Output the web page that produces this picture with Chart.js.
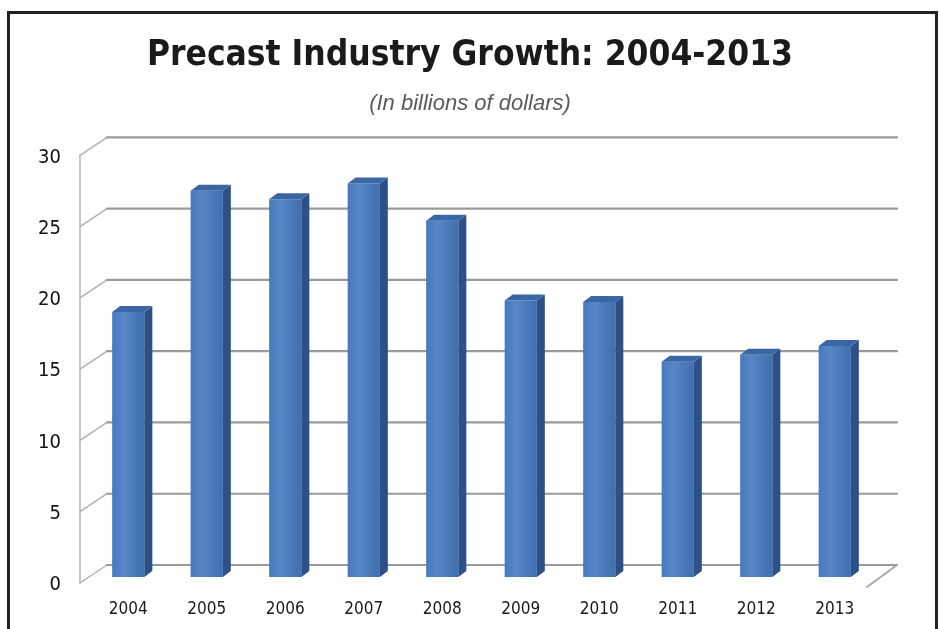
<!DOCTYPE html>
<html>
<head>
<meta charset="utf-8">
<script src="https://cdn.jsdelivr.net/npm/chart.js@4.4.1/dist/chart.umd.min.js"></script>
<style>
  body { margin: 0; background: #fff; }
  #wrap { position: relative; width: 940px; height: 629px; }
  #frame {
    position: absolute; left: 7px; top: 11px; width: 925px; height: 630px;
    border: 3px solid #222; border-bottom: none; pointer-events: none;
  }
</style>
</head>
<body>
<div id="wrap">
  <canvas id="myChart" width="940" height="629"></canvas>
  <div id="frame"></div>
</div>
<script>
// data
const years = ['2004', '2005', '2006', '2007', '2008', '2009', '2010', '2011', '2012', '2013'];
const sales = [18.6, 27.1, 26.5, 27.6, 25.0, 19.4, 19.3, 15.1, 15.6, 16.2];
const yTicks = [0, 5, 10, 15, 20, 25, 30];

const narrow = '"Liberation Sans Narrow", "DejaVu Sans Condensed", "Arial Narrow", sans-serif';

// fake 3d: back wall grid + bar side/top faces
const depth = { dx: 27, dy: 18, frontDx: -9, frontDy: 6 };

const wallPlugin = {
  id: 'wall',
  beforeDatasetsDraw(chart) {
    const { ctx, chartArea, scales } = chart;
    const ys = scales.y;
    const left = chartArea.left + depth.frontDx;
    const backLeft = left + depth.dx;
    const backRight = chartArea.right + 23;
    ctx.save();
    ctx.lineCap = 'round';
    // front vertical axis
    ctx.strokeStyle = '#b4b4b4';
    ctx.lineWidth = 1.5;
    ctx.beginPath();
    ctx.moveTo(left, ys.getPixelForValue(30) + depth.frontDy);
    ctx.lineTo(left, ys.getPixelForValue(0) + depth.frontDy);
    ctx.stroke();
    yTicks.forEach((v) => {
      const yf = ys.getPixelForValue(v) + depth.frontDy;
      const yb = yf - depth.dy;
      ctx.strokeStyle = '#b0b0b0';
      ctx.lineWidth = 1.5;
      ctx.beginPath();
      ctx.moveTo(left, yf);
      ctx.lineTo(backLeft, yb);
      ctx.stroke();
      ctx.strokeStyle = '#9a9a9a';
      ctx.lineWidth = 2.2;
      ctx.beginPath();
      ctx.moveTo(backLeft, yb);
      ctx.lineTo(backRight, yb);
      ctx.stroke();
    });
    // floor corner on the right
    const y0 = ys.getPixelForValue(0) + depth.frontDy;
    ctx.strokeStyle = '#a8a8a8';
    ctx.lineWidth = 2;
    ctx.beginPath();
    ctx.moveTo(backRight - depth.dx - 3, y0 + 4);
    ctx.lineTo(backRight, y0 - depth.dy);
    ctx.stroke();
    ctx.restore();
  },
  afterDatasetsDraw(chart) {
    const { ctx } = chart;
    const meta = chart.getDatasetMeta(0);
    const dx = 8, dy = 6;
    ctx.save();
    meta.data.forEach((bar) => {
      const l = bar.x - bar.width / 2;
      const r = bar.x + bar.width / 2;
      const top = bar.y;
      const base = bar.base;
      // side face
      ctx.fillStyle = '#2d5187';
      ctx.beginPath();
      ctx.moveTo(r, top);
      ctx.lineTo(r + dx, top - dy);
      ctx.lineTo(r + dx, base - dy);
      ctx.lineTo(r, base);
      ctx.closePath();
      ctx.fill();
      // top cap
      ctx.fillStyle = '#3a66a6';
      ctx.beginPath();
      ctx.moveTo(l, top);
      ctx.lineTo(l + dx, top - dy);
      ctx.lineTo(r + dx, top - dy);
      ctx.lineTo(r, top);
      ctx.closePath();
      ctx.fill();
      // light streak on the front face
      const g = ctx.createLinearGradient(l, 0, r, 0);
      g.addColorStop(0, 'rgba(255,255,255,0)');
      g.addColorStop(0.35, 'rgba(255,255,255,0.10)');
      g.addColorStop(1, 'rgba(0,0,0,0.08)');
      ctx.fillStyle = g;
      ctx.fillRect(l, top, r - l, base - top);
    });
    ctx.restore();
  }
};

const ctx = document.getElementById('myChart');

new Chart(ctx, {
  type: 'bar',
  data: {
    labels: years,
    datasets: [{
      label: 'Sales',
      data: sales,
      backgroundColor: '#4679c0',
      borderWidth: 0,
      categoryPercentage: 1,
      barPercentage: 0.41
    }]
  },
  options: {
    responsive: false,
    animation: false,
    layout: { padding: 0 },
    plugins: {
      legend: { display: false },
      tooltip: { enabled: false },
      title: {
        display: true,
        text: 'Precast Industry Growth: 2004-2013',
        color: '#1a1a1a',
        font: { family: narrow, size: 35, weight: 'bold' },
        padding: { top: 35, bottom: 0 }
      },
      subtitle: {
        display: true,
        text: '(In billions of dollars)',
        color: '#5a5a5a',
        font: { family: '"Liberation Sans", "DejaVu Sans", sans-serif', size: 22, style: 'italic' },
        padding: { top: 14, bottom: 32 }
      }
    },
    scales: {
      x: {
        grid: { display: false, drawTicks: false },
        border: { display: false },
        ticks: { color: '#1a1a1a', font: { family: narrow, size: 17 }, padding: 22 },
        afterFit: (s) => { s.height = 52; }
      },
      y: {
        min: 0,
        max: 30,
        grid: { display: false, drawTicks: false },
        border: { display: false },
        ticks: {
          stepSize: 5,
          color: '#111',
          font: { family: narrow, size: 20 },
          padding: 28,
          labelOffset: 8
        },
        afterFit: (s) => { s.width = 89; }
      },
      // empty axis on the right, only there to hold the plot's right margin
      yRight: {
        position: 'right',
        min: 0,
        max: 30,
        grid: { display: false, drawTicks: false },
        border: { display: false },
        ticks: { display: false },
        afterFit: (s) => { s.width = 66; }
      }
    }
  },
  plugins: [wallPlugin]
});
</script>
</body>
</html>
